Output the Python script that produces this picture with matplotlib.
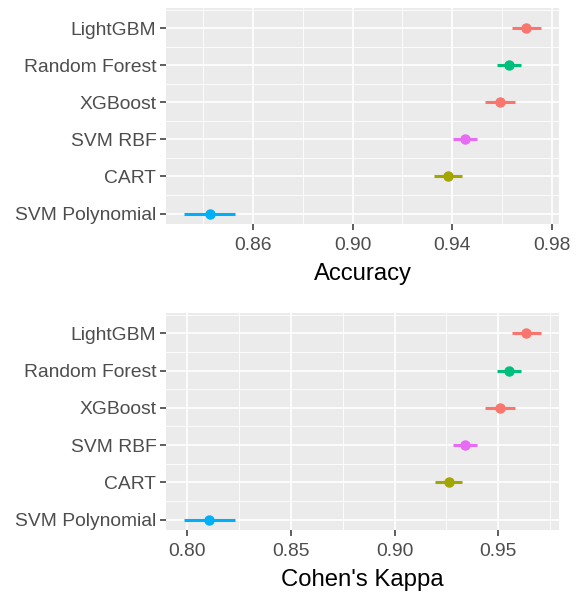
"""Model comparison: accuracy and Cohen's kappa with intervals (ggplot-like look)."""

import matplotlib

matplotlib.use("Agg")
import matplotlib.pyplot as plt
import numpy as np

plt.rcParams["font.family"] = ["Liberation Sans", "DejaVu Sans"]

models = ["SVM Polynomial", "CART", "SVM RBF", "XGBoost", "Random Forest", "LightGBM"]
colors = ["#00B0F6", "#A3A500", "#E76BF3", "#F8766D", "#00BF7D", "#F8766D"]

acc_mean = [0.8426, 0.9385, 0.9452, 0.9591, 0.9627, 0.9698]
acc_low = [0.8323, 0.9329, 0.9404, 0.9533, 0.9581, 0.9640]
acc_high = [0.8529, 0.9441, 0.9501, 0.9651, 0.9676, 0.9757]

kap_mean = [0.8107, 0.9260, 0.9337, 0.9507, 0.9550, 0.9634]
kap_low = [0.7985, 0.9193, 0.9280, 0.9436, 0.9494, 0.9565]
kap_high = [0.8231, 0.9327, 0.9396, 0.9579, 0.9608, 0.9706]

acc_ticks = [0.86, 0.90, 0.94, 0.98]
kap_ticks = [0.80, 0.85, 0.90, 0.95]


def panel(ax, mean, low, high, ticks, minor, xlabel):
    y = np.arange(1, len(models) + 1)
    ax.set_facecolor("#EBEBEB")
    for s in ax.spines.values():
        s.set_visible(False)
    ax.set_xticks(ticks)
    ax.set_xticklabels([f"{t:.2f}" for t in ticks])
    ax.set_xticks(minor, minor=True)
    ax.set_yticks(y)
    ax.set_yticklabels(models)
    ax.set_yticks(list(y[:-1] + 0.5) + [len(models) + 0.5], minor=True)
    ax.grid(which="major", color="white", lw=1.2)
    ax.grid(which="minor", color="white", lw=0.6)
    ax.set_axisbelow(True)
    ax.tick_params(which="major", length=4, width=1.1, color="#333333",
                   labelsize=13.9, labelcolor="#4D4D4D", pad=3)
    ax.tick_params(axis="x", which="major", pad=5.5)
    ax.tick_params(which="minor", length=0)
    for yi, m, lo, hi, c in zip(y, mean, low, high, colors):
        ax.plot([lo, hi], [yi, yi], color=c, lw=2.2, solid_capstyle="butt", zorder=3)
        ax.plot(m, yi, "o", color=c, ms=6.5, mec=c, zorder=4)
    lo_all, hi_all = min(low), max(high)
    pad = 0.05 * (hi_all - lo_all)
    ax.set_xlim(lo_all - pad, hi_all + pad)
    ax.set_ylim(0.72, 6.54)
    ax.set_xlabel(xlabel, fontsize=17.2, color="black", labelpad=6)


fig = plt.figure(figsize=(5.81, 5.94), dpi=100)
ax1 = fig.add_axes([0.2857, 0.6229, 0.6764, 0.3636])
ax2 = fig.add_axes([0.2857, 0.1077, 0.6764, 0.3649])
panel(ax1, acc_mean, acc_low, acc_high, acc_ticks, [0.84, 0.88, 0.92, 0.96], "Accuracy")
panel(ax2, kap_mean, kap_low, kap_high, kap_ticks, [0.825, 0.875, 0.925, 0.975], "Cohen's Kappa")
fig.savefig("out.png", dpi=100)
